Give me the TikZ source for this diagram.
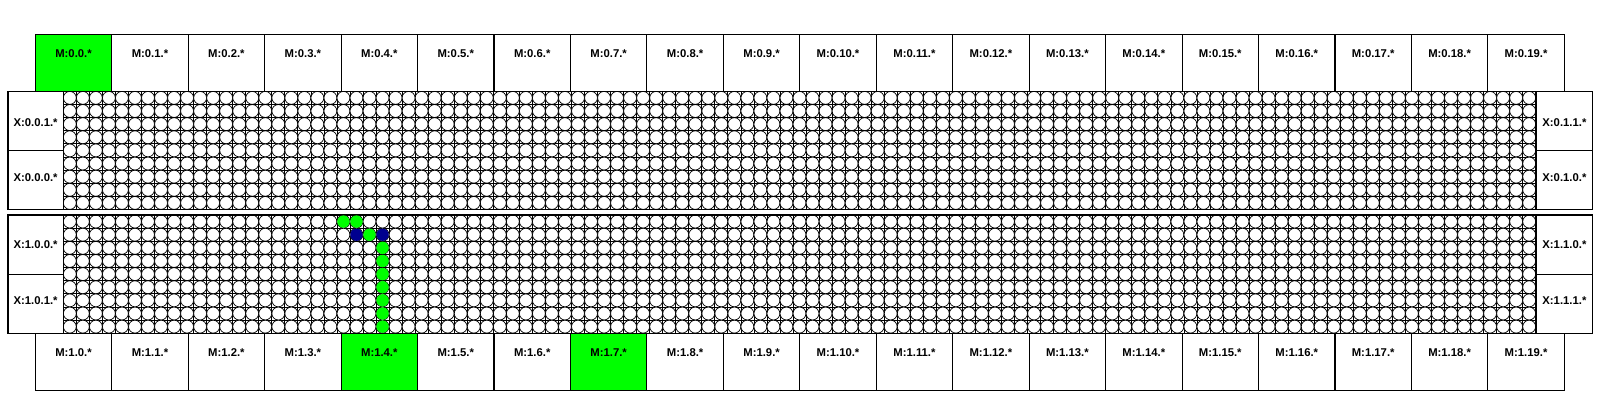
\documentclass[tikz,border=0pt]{standalone}
\usepackage{fontspec}
\setmainfont{Liberation Sans}
\newlength{\du}
\setlength{\du}{1pt}
\definecolor{memgreen}{rgb}{0.000000, 1.000000, 0.000000}
\definecolor{pathblue}{rgb}{0.000000, 0.000000, 0.560000}
\tikzset{
  membox/.style={draw=black, line width=1.1\du},
  blockline/.style={draw=black, line width=1.1\du},
  gridline/.style={draw=black, line width=0.7\du},
  cellring/.style={draw=black, fill=white, line width=0.7\du},
  boxlabel/.style={font=\bfseries\fontsize{11.3}{13}\selectfont, inner sep=0pt}
}

\begin{document}
\begin{tikzpicture}
\pgftransformxscale{1.000000}
\pgftransformyscale{-1.000000}
\useasboundingbox (0\du,0\du) rectangle (1600\du,400\du);
% memory boxes, green ones first
\foreach \i/\j in {0/0,1/4,1/7}{
  \pgfmathsetmacro{\mx}{35.3+\j*76.45}
  \pgfmathsetmacro{\my}{\i==0 ? 34.3 : 333.3}
  \fill[memgreen] (\mx\du,\my\du) rectangle +(76.45\du,57\du);
}
\foreach \i in {0,...,19}{
  \pgfmathsetmacro{\mx}{35.3+\i*76.45}
  \pgfmathsetmacro{\mc}{\mx+38.22}
  \draw[membox] (\mx\du,34.3\du) rectangle +(76.45\du,57\du);
  \node[boxlabel] (mt\i) at (\mc\du,53.5\du) {M:0.\i.*};
  \draw[membox] (\mx\du,333.3\du) rectangle +(76.45\du,57\du);
  \node[boxlabel] (mb\i) at (\mc\du,352.5\du) {M:1.\i.*};
}
% the two blocks of cells
\foreach \b/\by in {0/91.3,1/215.0}{
  \pgfmathsetmacro{\bb}{\by+118.2}
  \fill[white] (8\du,\by\du) rectangle (1592.7\du,\bb\du);
  \foreach \k in {0,...,113}{
    \pgfmathsetmacro{\gx}{63.3+\k*13.03}
    \draw[gridline] (\gx\du,\by\du) -- (\gx\du,\bb\du);
  }
  \foreach \k in {0,...,9}{
    \pgfmathsetmacro{\gy}{\by+\k*13.133}
    \draw[gridline] (63.3\du,\gy\du) -- (1536\du,\gy\du);
  }
  \foreach \c in {0,...,112}{
    \pgfmathsetmacro{\cx}{63.3+(\c+0.5)*13.03}
    \path[cellring] \foreach \r in {0,...,8}{
      ({\cx\du},{(\by+(\r+0.5)*13.133)*\du}) circle (6.45\du)
    };
  }
  \pgfmathsetmacro{\hm}{\by+59.1}
  \draw[blockline] (8\du,\by\du) rectangle (1592.7\du,\bb\du);
  \draw[blockline] (63.3\du,\by\du) -- (63.3\du,\bb\du);
  \draw[blockline] (1536\du,\by\du) -- (1536\du,\bb\du);
  \draw[blockline] (8\du,\hm\du) -- (63.3\du,\hm\du);
  \draw[blockline] (1536\du,\hm\du) -- (1592.7\du,\hm\du);
}
% side labels
\node[boxlabel] (xl01) at (35.6\du,122.5\du) {X:0.0.1.*};
\node[boxlabel] (xl00) at (35.6\du,178\du) {X:0.0.0.*};
\node[boxlabel] (xr01) at (1564.4\du,122.5\du) {X:0.1.1.*};
\node[boxlabel] (xr00) at (1564.4\du,178\du) {X:0.1.0.*};
\node[boxlabel] (xl10) at (35.6\du,245\du) {X:1.0.0.*};
\node[boxlabel] (xl11) at (35.6\du,301\du) {X:1.0.1.*};
\node[boxlabel] (xr10) at (1564.4\du,245\du) {X:1.1.0.*};
\node[boxlabel] (xr11) at (1564.4\du,301\du) {X:1.1.1.*};
% route down to M:1.4
\foreach \c/\r/\fc in {21/0/memgreen,22/0/memgreen,22/1/pathblue,23/1/memgreen,24/1/pathblue,
  24/2/memgreen,24/3/memgreen,24/4/memgreen,24/5/memgreen,24/6/memgreen,24/7/memgreen,24/8/memgreen}{
  \pgfmathsetmacro{\cx}{63.3+(\c+0.5)*13.03}
  \pgfmathsetmacro{\cy}{215.0+(\r+0.5)*13.133}
  \fill[\fc] (\cx\du,\cy\du) circle (6.2\du);
}
\end{tikzpicture}
\end{document}
